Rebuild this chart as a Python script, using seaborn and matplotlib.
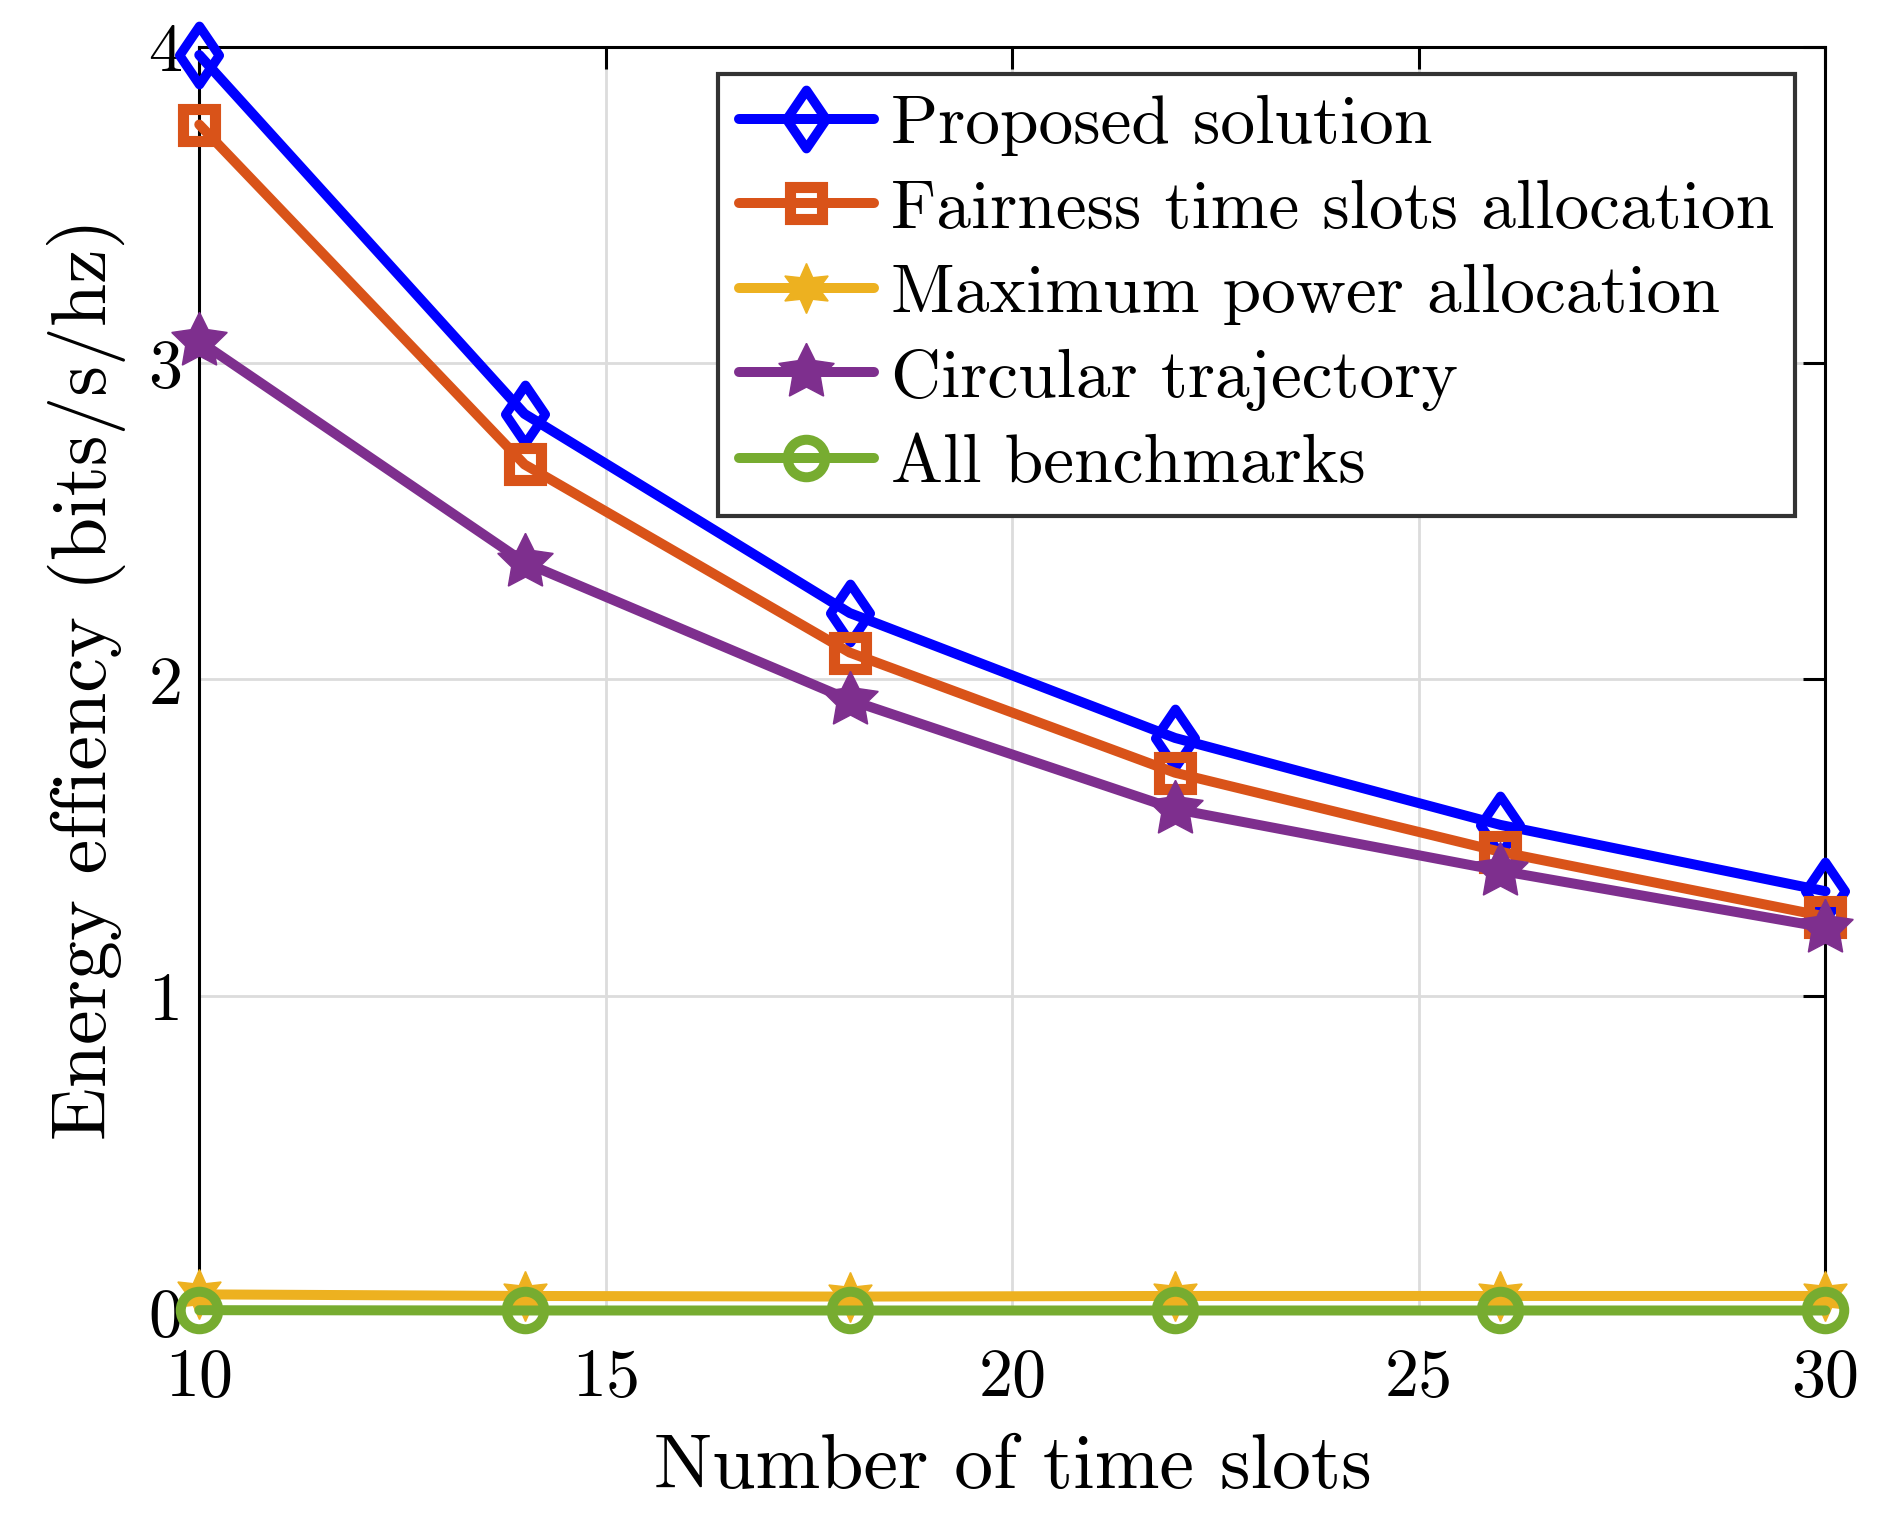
import numpy as np
import pandas as pd
import matplotlib
matplotlib.use("Agg")
import matplotlib.pyplot as plt
import seaborn as sns
from matplotlib.path import Path

# ---- data ----
time_slots = [10, 14, 18, 22, 26, 30]
proposed = [3.975, 2.84, 2.21, 1.815, 1.54, 1.33]
fairness = [3.755, 2.68, 2.085, 1.705, 1.455, 1.25]
max_power = [0.055, 0.05, 0.048, 0.05, 0.05, 0.05]
circular = [3.07, 2.37, 1.935, 1.59, 1.395, 1.215]
all_bench = [0.005, 0.004, 0.004, 0.004, 0.004, 0.004]
series_names = ["Proposed solution", "Fairness time slots allocation",
                "Maximum power allocation", "Circular trajectory", "All benchmarks"]
x_ticks = [10, 15, 20, 25, 30]
y_ticks = [0, 1, 2, 3, 4]

sns.set_theme(style="white")
plt.rcParams['font.family'] = ['cmr10', 'DejaVu Serif']
plt.rcParams['axes.formatter.use_mathtext'] = True
plt.rcParams['mathtext.fontset'] = 'cm'
plt.rcParams['text.color'] = 'black'
plt.rcParams['axes.labelcolor'] = 'black'
plt.rcParams['xtick.color'] = 'black'
plt.rcParams['ytick.color'] = 'black'

diamond = Path([(0, 1), (0.68, 0), (0, -1), (-0.68, 0), (0, 1)],
               [Path.MOVETO, Path.LINETO, Path.LINETO, Path.LINETO, Path.CLOSEPOLY])

styles = [
    dict(color="#0000FF", marker=diamond, ms=21, mfc="none", mew=3.4),
    dict(color="#D95319", marker="s", ms=11.5, mfc="none", mew=4.0),
    dict(color="#EDB120", marker=(6, 1, 0), ms=18, mfc="#EDB120", mew=0.5),
    dict(color="#7E2F8E", marker=(5, 1, 0), ms=21, mfc="#7E2F8E", mew=0.5),
    dict(color="#77AC30", marker="o", ms=13.5, mfc="none", mew=3.6),
]
values = [proposed, fairness, max_power, circular, all_bench]

fig = plt.figure(figsize=(9.4, 7.6), dpi=200)
ax = fig.add_axes([0.106, 0.137, 0.865, 0.832])

for name, vals, st in zip(series_names, values, styles):
    df = pd.DataFrame({"x": time_slots, "y": vals})
    sns.lineplot(data=df, x="x", y="y", ax=ax, label=name, lw=3.6,
                 color=st["color"], marker=st["marker"], markersize=st["ms"],
                 markerfacecolor=st["mfc"], markeredgecolor=st["color"],
                 markeredgewidth=st["mew"], clip_on=False, zorder=3)

ax.set_xlim(10, 30)
ax.set_ylim(0, 4)
ax.set_xticks(x_ticks)
ax.set_yticks(y_ticks)
ax.set_xticklabels([str(t) for t in x_ticks])
ax.set_yticklabels([str(t) for t in y_ticks])
ax.grid(True, color="#dcdcdc", lw=1.0)
ax.set_axisbelow(True)
for sp in ax.spines.values():
    sp.set_color("black")
    sp.set_linewidth(1.1)
ax.tick_params(direction="in", length=8, width=1.1, top=True, right=True,
               labelsize=24.5, colors="black")
ax.tick_params(axis="x", pad=13)
ax.tick_params(axis="y", pad=6)
ax.set_xlabel("Number of time slots", fontsize=28, labelpad=9)
ax.set_ylabel("Energy effiency (bits/s/hz)", fontsize=28, labelpad=8)

leg = ax.legend(loc="upper right", bbox_to_anchor=(0.9815, 0.979), borderaxespad=0,
                fontsize=25, frameon=True, fancybox=False, framealpha=1,
                edgecolor="#333333", handlelength=1.95, handletextpad=0.25,
                labelspacing=0.33, borderpad=0.3)
leg.get_frame().set_linewidth(1.5)

fig.savefig("out.png", dpi=200)
